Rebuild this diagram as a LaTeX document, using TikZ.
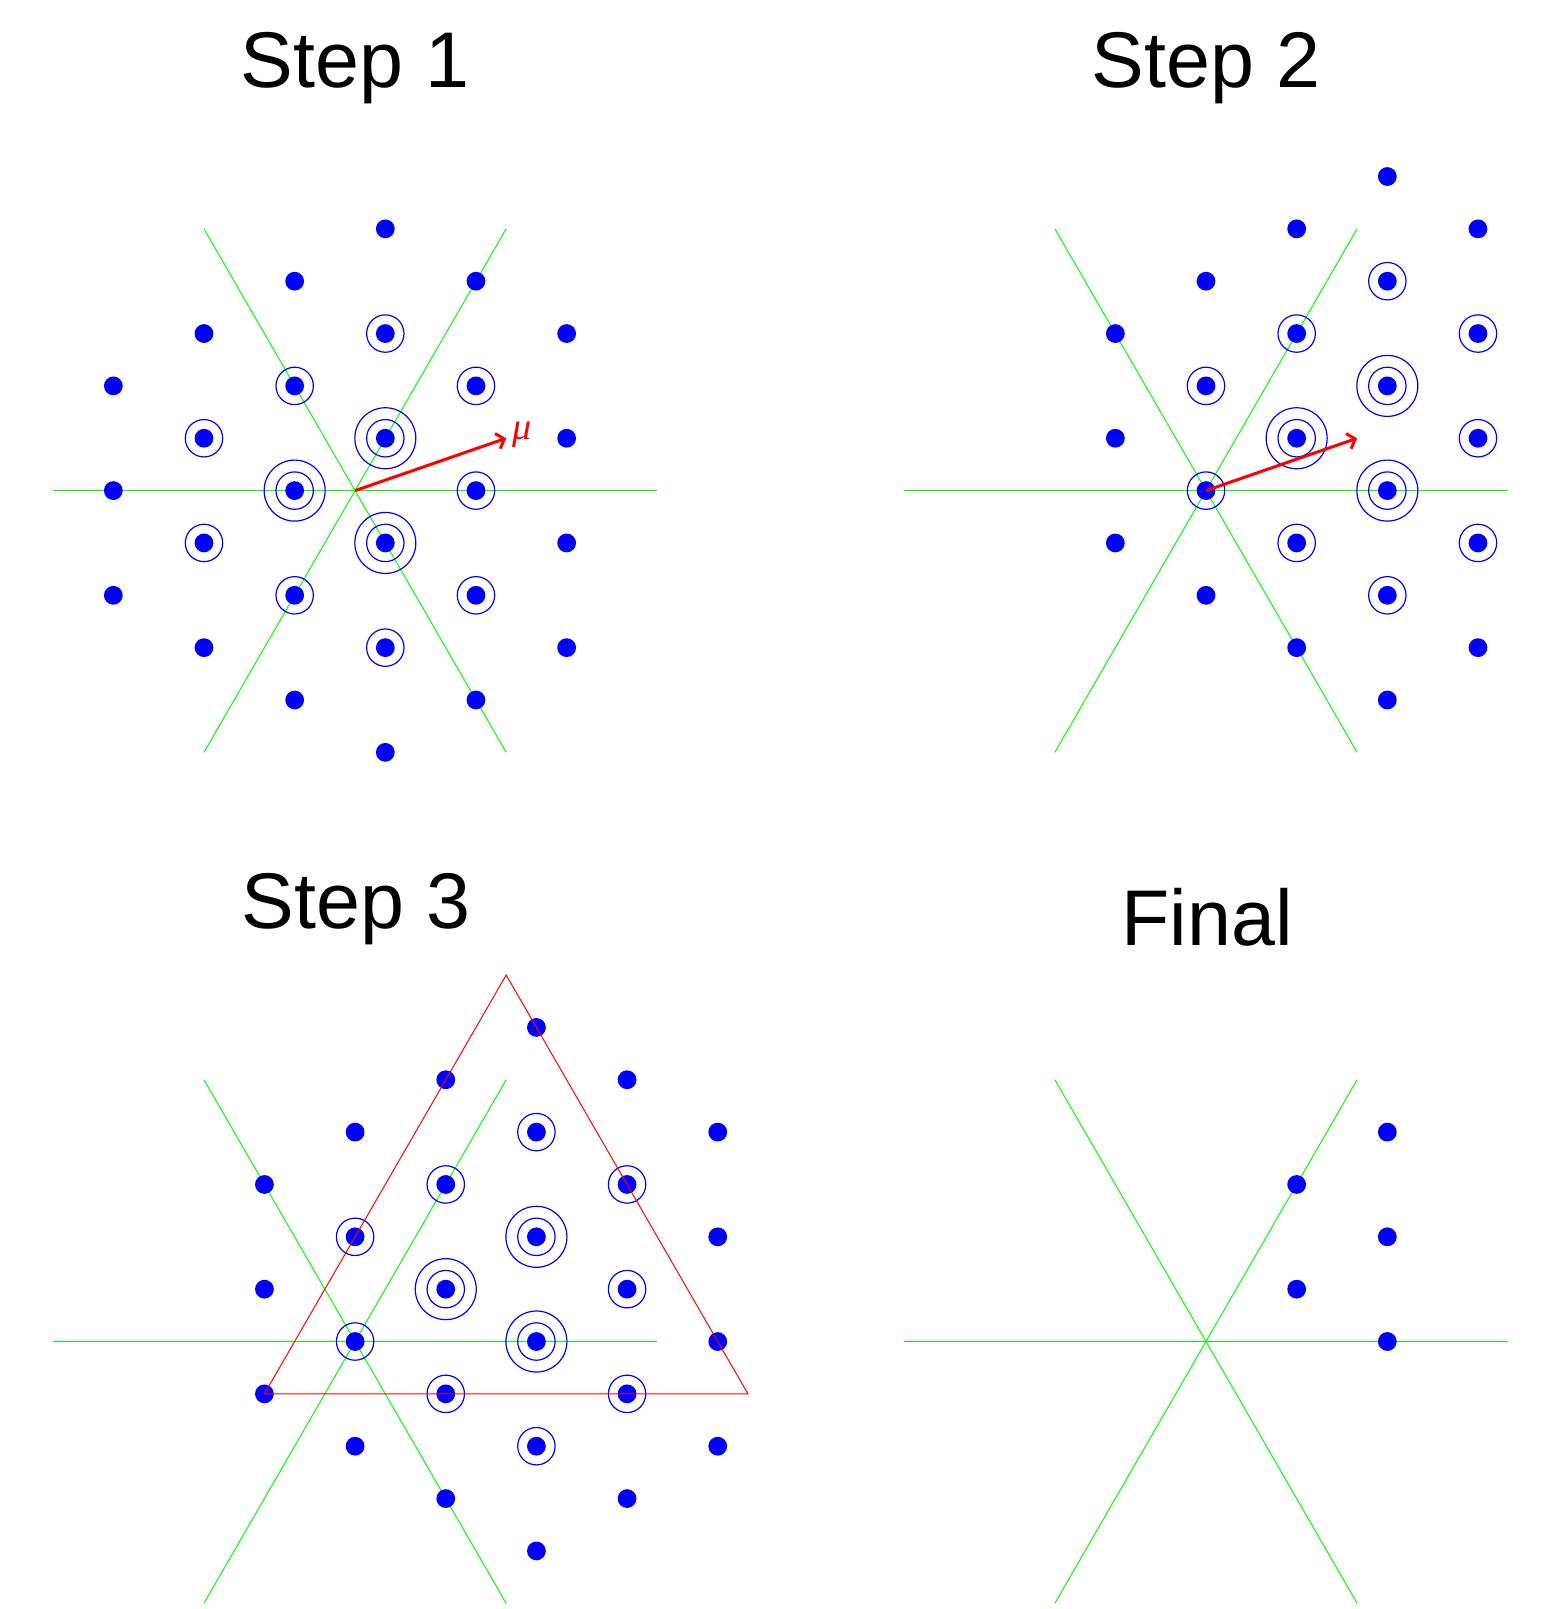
\documentclass[tikz,border=0pt]{standalone}
\usepackage{fontspec}
\setmainfont{Liberation Sans}
\newfontfamily\greekserif{Liberation Serif}
\usetikzlibrary{arrows.meta}
\def\H{30.22}
\def\V{52.35}
\tikzset{
  wdot/.style={fill=blue},
  ring/.style={draw=blue, line width=0.6pt},
  axisline/.style={draw=green, line width=0.5pt},
  titletext/.style={font=\fontsize{39.5}{44}\selectfont, anchor=base, inner sep=0pt},
  muarrow/.style={draw=red, line width=1.5pt, -{Straight Barb[length=3.5pt,width=8pt]}},
  tri/.style={draw=red, line width=0.5pt, line join=miter},
}
\newcommand\axeslines{%
  \draw[axisline] ({-10*\H},0) -- ({10*\H},0);
  \draw[axisline] ({-5*\H},{-5*\V}) -- ({5*\H},{5*\V});
  \draw[axisline] ({-5*\H},{5*\V}) -- ({5*\H},{-5*\V});
}
\newcommand\weights[1]{%
  \foreach \k/\m/\n in {#1}{
    \fill[wdot] ({\k*\H},{\m*\V}) circle[radius=4.7pt];
    \ifnum\n>1 \draw[ring] ({\k*\H},{\m*\V}) circle[radius=9.35pt];\fi
    \ifnum\n>2 \draw[ring] ({\k*\H},{\m*\V}) circle[radius=15.25pt];\fi
  }%
}
\begin{document}
\begin{tikzpicture}[x=0.5pt,y=-0.5pt]
\useasboundingbox (0,0) rectangle (1556,1609);
% titles
\node[titletext] (t1) at (355,88) {Step 1};
\node[titletext] (t2) at (1206,88) {Step 2};
\node[titletext] (t3) at (356,928) {Step 3};
\node[titletext] (t4) at (1207,945) {Final};
% Step 1
\begin{scope}[shift={(355.1,490.6)}]
  \axeslines
  \weights{-8/-2/1,-8/0/1,-8/2/1,
    -5/-3/1,-5/-1/2,-5/1/2,-5/3/1,
    -2/-4/1,-2/-2/2,-2/0/3,-2/2/2,-2/4/1,
    1/-5/1,1/-3/2,1/-1/3,1/1/3,1/3/2,1/5/1,
    4/-4/1,4/-2/2,4/0/2,4/2/2,4/4/1,
    7/-3/1,7/-1/1,7/1/1,7/3/1}
  \coordinate (o1) at (0,0);
  \coordinate (m1) at ({5*\H},{-1*\V});
  \draw[muarrow] (o1) -- (m1);
\end{scope}
\node[text=red, font=\greekserif\itshape\fontsize{19}{22}\selectfont, inner sep=0pt] (mulabel) at (522,435) {μ};
% Step 2
\begin{scope}[shift={(1206,490.6)}]
  \axeslines
  \weights{-3/-3/1,-3/-1/1,-3/1/1,
    0/-4/1,0/-2/2,0/0/2,0/2/1,
    3/-5/1,3/-3/2,3/-1/3,3/1/2,3/3/1,
    6/-6/1,6/-4/2,6/-2/3,6/0/3,6/2/2,6/4/1,
    9/-5/1,9/-3/2,9/-1/2,9/1/2,9/3/1}
  \coordinate (o2) at (0,0);
  \coordinate (m2) at ({5*\H},{-1*\V});
  \draw[muarrow] (o2) -- (m2);
\end{scope}
% Step 3
\begin{scope}[shift={(355.1,1341.5)}]
  \axeslines
  \weights{-3/-3/1,-3/-1/1,-3/1/1,
    0/-4/1,0/-2/2,0/0/2,0/2/1,
    3/-5/1,3/-3/2,3/-1/3,3/1/2,3/3/1,
    6/-6/1,6/-4/2,6/-2/3,6/0/3,6/2/2,6/4/1,
    9/-5/1,9/-3/2,9/-1/2,9/1/2,9/3/1,
    12/-4/1,12/-2/1,12/0/1,12/2/1}
  \coordinate (a3) at ({5*\H},{-7*\V});
  \coordinate (b3) at ({-3*\H},{1*\V});
  \coordinate (c3) at ({13*\H},{1*\V});
  \draw[tri] (a3) -- (b3) -- (c3) -- cycle;
\end{scope}
% Final
\begin{scope}[shift={(1206,1341.5)}]
  \axeslines
  \weights{3/-3/1,3/-1/1,6/-4/1,6/-2/1,6/0/1}
\end{scope}
\end{tikzpicture}
\end{document}
